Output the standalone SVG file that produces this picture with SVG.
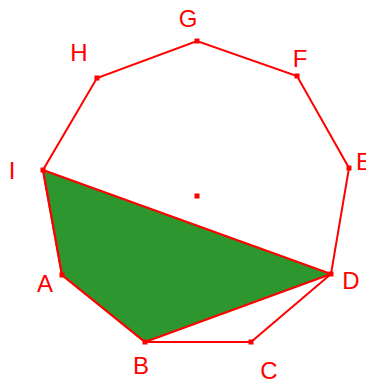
<svg xmlns="http://www.w3.org/2000/svg" width="366" height="380" viewBox="0 0 366 380">
<style>
.edge{fill:none;stroke:#ff0000;stroke-width:2}
.poly{fill:#2e962e;stroke:#ff0000;stroke-width:2.2;stroke-linejoin:round}
.pt{fill:#ff0000}
.lbl{font-family:"Liberation Sans",Arial,sans-serif;font-size:24px;fill:#ff0000;text-anchor:middle}
</style>
<rect width="366" height="380" fill="#ffffff"/>
<g id="connectors">
<polygon class="edge" points="62,275 145,342 251,342 331,274 349,168 297,76 197,41 97,78 43,170"/>
<polygon class="poly" points="43,170 62,275 145,342 331,274"/>
</g>
<g id="A"><rect class="pt" x="59.5" y="272.5" width="5" height="5"/><text class="lbl" x="45" y="292">A</text></g>
<g id="B"><rect class="pt" x="142.5" y="339.5" width="5" height="5"/><text class="lbl" x="141" y="374">B</text></g>
<g id="C"><rect class="pt" x="248.5" y="339.5" width="5" height="5"/><text class="lbl" x="269" y="379">C</text></g>
<g id="D"><rect class="pt" x="328.5" y="271.5" width="5" height="5"/><text class="lbl" x="351" y="289">D</text></g>
<g id="E"><rect class="pt" x="346.5" y="165.5" width="5" height="5"/><text class="lbl" x="364" y="170">E</text></g>
<g id="F"><rect class="pt" x="294.5" y="73.5" width="5" height="5"/><text class="lbl" x="300" y="67">F</text></g>
<g id="G"><rect class="pt" x="194.5" y="38.5" width="5" height="5"/><text class="lbl" x="188" y="27">G</text></g>
<g id="H"><rect class="pt" x="94.5" y="75.5" width="5" height="5"/><text class="lbl" x="79" y="61">H</text></g>
<g id="I"><rect class="pt" x="40.5" y="167.5" width="5" height="5"/><text class="lbl" x="12" y="179">I</text></g>
<g id="O"><rect class="pt" x="194.5" y="193.5" width="5" height="5"/></g>
</svg>
